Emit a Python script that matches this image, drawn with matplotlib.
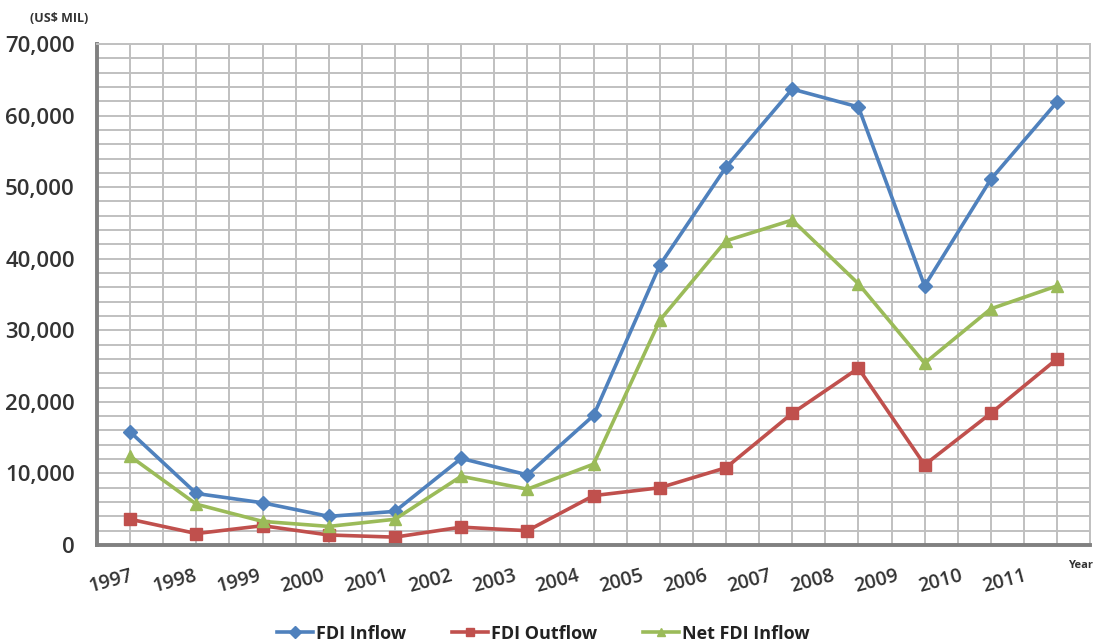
import matplotlib.pyplot as plt
from matplotlib.ticker import MultipleLocator, FuncFormatter
from matplotlib.transforms import ScaledTranslation

years = ['1997', '1998', '1999', '2000', '2001', '2002', '2003', '2004',
         '2005', '2006', '2007', '2008', '2009', '2010', '2011']
fdi_inflow = [15800, 7200, 5900, 4000, 4700, 12100, 9800, 18100,
              39100, 52800, 63700, 61200, 36200, 51100, 61900]
fdi_outflow = [3600, 1600, 2700, 1400, 1100, 2500, 2000, 6900,
               8000, 10800, 18400, 24700, 11200, 18400, 26000]
net_inflow = [12400, 5700, 3300, 2600, 3600, 9600, 7800, 11300,
              31400, 42500, 45400, 36500, 25400, 33000, 36200]

plt.rcParams['font.family'] = ['Open Sans', 'DejaVu Sans']

fig = plt.figure(figsize=(11.09, 6.44), dpi=100)
ax = fig.add_axes([0.0875, 0.1537, 0.8955, 0.778])

x = list(range(len(years)))
ax.plot(x, fdi_inflow, color='#4F81BD', lw=2.6, marker='D', ms=7, label='FDI Inflow')
ax.plot(x, fdi_outflow, color='#C0504D', lw=2.6, marker='s', ms=8, label='FDI Outflow')
ax.plot(x, net_inflow, color='#9BBB59', lw=2.6, marker='^', ms=9, label='Net FDI Inflow')

ax.set_xlim(-0.5, len(years) - 0.5)
ax.set_ylim(0, 70000)
ax.yaxis.set_major_locator(MultipleLocator(10000))
ax.yaxis.set_minor_locator(MultipleLocator(2000))
ax.yaxis.set_major_formatter(FuncFormatter(lambda v, p: f'{int(v):,}'))
ax.set_xticks(x)
ax.set_xticks([i - 0.5 for i in x] + [len(years) - 0.5], minor=True)
ax.set_xticklabels(years, rotation=15, ha='right', rotation_mode='anchor')

ax.grid(True, which='both', color='#c0c0c0', lw=1.4)
ax.set_axisbelow(True)
for s in ['top', 'right']:
    ax.spines[s].set_color('#c0c0c0')
    ax.spines[s].set_linewidth(1.4)
for s in ['left', 'bottom']:
    ax.spines[s].set_color('#808080')
    ax.spines[s].set_linewidth(2.8)

ax.tick_params(axis='y', which='major', length=0, labelsize=16, labelcolor='#333333', pad=16)
ax.tick_params(axis='x', which='major', length=0, labelsize=14, labelcolor='#333333', pad=15)
ax.tick_params(which='minor', length=0)
for lab in ax.get_yticklabels():
    lab.set_fontweight('semibold')
# year labels drift slightly left of their ticks towards the right end
for i, lab in enumerate(ax.get_xticklabels()):
    lab.set_fontweight('semibold')
    lab.set_transform(lab.get_transform() +
                      ScaledTranslation(-i * 0.024, 0, fig.dpi_scale_trans))

fig.text(0.027, 0.972, '(US$ MIL)', fontsize=9, fontweight='bold', color='#333333', va='center')
fig.text(0.963, 0.122, 'Year', fontsize=8, fontweight='bold', color='#333333', va='center')

leg = fig.legend(loc='center', bbox_to_anchor=(0.49, 0.016), ncol=3, frameon=False,
                 handlelength=2.0, columnspacing=2.5, handletextpad=0.2,
                 prop={'weight': 'bold', 'size': 13})
for t in leg.get_texts():
    t.set_color('#222222')
for h in leg.legend_handles:
    h.set_markersize(6)

fig.savefig('out.png', dpi=100)
